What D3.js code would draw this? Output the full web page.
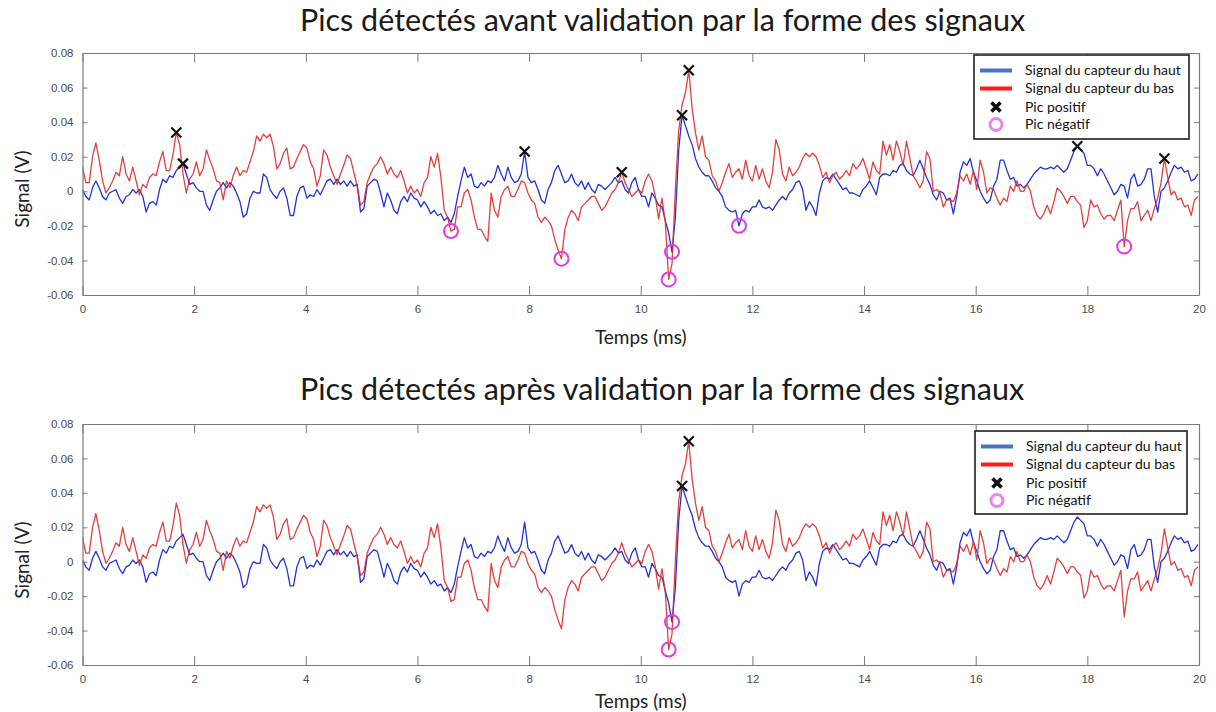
<!DOCTYPE html>
<html>
<head>
<meta charset="utf-8">
<script src="https://cdn.jsdelivr.net/npm/d3@7"></script>
<style>
  body { margin: 0; background: #fff; }
</style>
</head>
<body>
<svg id="fig" width="1216" height="712"></svg>
<script>
// Sampling period of both sensor signals (ms); values are stored in mV.
const periodeMs = 0.06;

// Upper sensor signal (mV)
const hautMv = [
  1,-3,-5,2,6,2,-3,-5,-1,0,
  1,-4,-7,-3,-2,1,-1,1,-3,-12,
  -7,-6,-8,1,7,5,9,8,12,14,
  16,10,4,5,2,0,0,-8,-11,-5,
  0,2,5,2,5,3,-1,-6,-15,-13,
  -4,0,-1,-1,10,8,1,-2,-4,0,
  2,-4,-14,-14,-3,2,3,-4,-2,-3,
  1,-2,2,6,7,4,7,4,6,3,
  6,3,4,-12,-10,
  3,5,7,6,-1,-9,-1,-5,-11,-13,
  -6,-3,-6,-1,-4,-5,-9,-6,-9,-13,
  -11,-14,-13,-17,-15,-18,-13,-3,6,14,
  8,10,3,2,5,3,6,5,8,15,
  10,6,14,8,5,6,10,23,8,5,
  6,1,-5,-7,1,5,12,15,10,5,
  6,10,5,3,6,1,5,1,-1,4,
  3,1,3,5,8,5,6,1,-1,5,
  8,1,-3,-3,-9,
  -1,-4,-8,-9,-17,-24,-35,-15,24,44,
  38,32,27,19,14,11,9,9,6,2,
  0,-3,-9,-11,-12,-11,-20,-13,-11,-12,
  -9,-9,-5,-9,-10,-9,-11,-8,-5,-3,
  -5,-1,1,5,6,1,-11,-6,-9,-14,
  -1,6,8,7,10,7,4,1,2,-1,
  -1,-2,-3,1,3,6,2,-2,8,10,
  10,9,12,11,15,16,12,10,9,13,
  18,13,8,4,
  -2,-5,0,-1,-5,-4,-13,-3,11,17,
  15,19,11,6,0,-4,-7,-5,3,7,
  18,18,12,7,8,3,4,2,4,7,
  10,12,14,13,13,14,13,15,13,11,
  13,18,23,26,24,22,15,15,13,9,
  13,10,6,2,-2,0,4,3,-4,7,
  10,3,4,7,13,13,-3,-12,0,2,
  6,11,15,13,14,11,12,6,7,10
];

// Lower sensor signal (mV)
const basMv = [
  14,5,5,20,28,18,6,-1,2,6,
  11,9,20,10,6,14,6,-2,4,2,
  8,10,9,17,23,12,12,21,34,27,
  10,-1,7,10,17,9,13,24,18,13,
  6,5,-5,6,2,9,14,9,12,11,
  17,23,32,29,33,31,33,26,13,16,
  22,25,13,14,19,23,27,25,17,13,
  3,9,24,21,14,9,4,10,15,21,
  19,11,3,-8,-6,
  5,10,14,16,20,16,10,14,10,8,
  12,6,-1,3,-1,1,-3,5,8,20,
  14,22,8,-11,-15,-23,-22,-9,-9,-1,
  1,-5,-15,-22,-22,-26,-29,-1,-11,-15,
  -3,1,3,-3,-3,1,6,5,-1,-5,
  -7,-15,-18,-15,-17,-20,-28,-34,-39,-22,
  -15,-11,-13,-17,-9,-7,-5,-3,-3,-7,
  -11,-9,-5,-1,1,5,11,5,1,-3,
  -1,1,-1,6,10,
  6,-3,-16,-4,-18,-51,-42,1,35,50,
  57,70,48,34,24,32,20,18,9,6,
  0,5,11,16,8,11,13,7,18,9,
  6,15,7,13,6,2,11,30,24,10,
  6,14,9,11,14,19,22,20,22,20,
  15,8,11,5,9,11,7,9,12,9,
  16,13,15,19,13,7,17,12,10,29,
  21,27,18,29,23,15,29,19,9,6,
  2,6,23,19,
  0,1,-1,-9,-5,-5,-6,-1,9,6,
  10,4,12,1,18,11,-1,2,1,-4,
  -8,-4,-6,3,0,6,0,0,4,0,
  -9,-14,-16,-13,-8,-13,-6,2,0,-3,
  -7,-3,-3,-6,-8,-21,-17,-5,-9,-8,
  -13,-16,-14,-14,-17,-11,-5,-32,-17,-10,
  -10,-6,-17,-14,-11,-17,-10,-4,5,19,
  8,-2,0,-5,-4,-9,-8,-14,-5,-3
];

// Detected peaks: [time (ms), value (mV)]
const picsPositifsAvant = [[1.68, 34], [1.80, 16], [7.92, 23], [9.66, 11], [10.74, 44], [10.86, 70], [17.82, 26], [19.38, 19]];
const picsNegatifsAvant = [[6.60, -23], [8.58, -39], [10.50, -51], [10.56, -35], [11.76, -20], [18.66, -32]];
const picsPositifsApres = [[10.74, 44], [10.86, 70]];
const picsNegatifsApres = [[10.50, -51], [10.56, -35]];

const xTicks = [0, 2, 4, 6, 8, 10, 12, 14, 16, 18, 20];
const yTicks = [-0.06, -0.04, -0.02, 0, 0.02, 0.04, 0.06, 0.08];
const yTickLabels = ["-0.06", "-0.04", "-0.02", "0", "0.02", "0.04", "0.06", "0.08"];

const legendLabels = ["Signal du capteur du haut", "Signal du capteur du bas", "Pic positif", "Pic négatif"];

const titres = [
  "Pics détectés avant validation par la forme des signaux",
  "Pics détectés après validation par la forme des signaux"
];

// ---- styling / layout ----
const COL_HAUT = "#2233d8";
const COL_BAS = "#e02a2a";
const COL_CIRCLE = "#e03ce0";
const AXIS_COL = "#7a7a7a";
const TICK_TEXT = "#4a4a4a";
const UI_FONT = "Lato, 'Open Sans', sans-serif";
const NUM_FONT = "'Liberation Sans', Arial, sans-serif";

const panels = [
  { titre: titres[0], top: 53, bottom: 295, titleY: 31, xLabelY: 344, pos: picsPositifsAvant, neg: picsNegatifsAvant,
    legend: { x: 974, y: 55, w: 215, h: 84 } },
  { titre: titres[1], top: 424, bottom: 665, titleY: 400, xLabelY: 708, pos: picsPositifsApres, neg: picsNegatifsApres,
    legend: { x: 975, y: 431, w: 212, h: 83 } }
];

const svg = d3.select("#fig");
const defs = svg.append("defs");
const x = d3.scaleLinear().domain([0, 20]).range([82.5, 1199]);
const temps = hautMv.map((_, k) => k * periodeMs);

function drawCross(sel, cx, cy, s, w) {
  sel.append("path")
    .attr("d", `M${cx - s},${cy - s}L${cx + s},${cy + s}M${cx - s},${cy + s}L${cx + s},${cy - s}`)
    .attr("stroke", "#111").attr("stroke-width", w).attr("fill", "none");
}

panels.forEach((p, i) => {
  const y = d3.scaleLinear().domain([-0.06, 0.08]).range([p.bottom, p.top]);
  const g = svg.append("g");

  defs.append("clipPath").attr("id", "plotclip" + i)
    .append("rect")
    .attr("x", x(0)).attr("y", p.top)
    .attr("width", x(20) - x(0)).attr("height", p.bottom - p.top);

  // title
  svg.append("text")
    .attr("x", 300).attr("y", p.titleY)
    .attr("font-family", UI_FONT).attr("font-size", 30.5)
    .attr("fill", "#1a1a1a")
    .text(p.titre);

  // signals
  const line = d3.line()
    .x((d, k) => x(temps[k]))
    .y(d => y(d / 1000));
  const plot = g.append("g").attr("clip-path", `url(#plotclip${i})`);
  plot.append("path").datum(hautMv)
    .attr("d", line).attr("fill", "none")
    .attr("stroke", COL_HAUT).attr("stroke-width", 1.3).attr("stroke-linejoin", "round");
  plot.append("path").datum(basMv)
    .attr("d", line).attr("fill", "none")
    .attr("stroke", COL_BAS).attr("stroke-width", 1.3).attr("stroke-linejoin", "round")
    .attr("opacity", 0.9);

  // peak markers
  p.neg.forEach(([t, v]) => {
    g.append("circle").attr("cx", x(t)).attr("cy", y(v / 1000)).attr("r", 7)
      .attr("fill", "none").attr("stroke", COL_CIRCLE).attr("stroke-width", 2);
  });
  p.pos.forEach(([t, v]) => drawCross(g, x(t), y(v / 1000), 5, 2.2));

  // axes (box with inward ticks)
  const styleAxis = a => {
    a.select(".domain").attr("stroke", AXIS_COL).attr("stroke-width", 1.2);
    a.selectAll(".tick line").attr("stroke", AXIS_COL).attr("stroke-width", 1);
    a.selectAll(".tick text").attr("fill", TICK_TEXT)
      .attr("font-family", NUM_FONT).attr("font-size", 11.5);
  };
  g.append("g").attr("transform", `translate(0,${p.bottom})`)
    .call(d3.axisBottom(x).tickValues(xTicks).tickSizeInner(-9).tickSizeOuter(0).tickPadding(10)
      .tickFormat(d => String(d)))
    .call(styleAxis);
  g.append("g").attr("transform", `translate(0,${p.top})`)
    .call(d3.axisTop(x).tickValues(xTicks).tickSizeInner(-9).tickSizeOuter(0).tickFormat(""))
    .call(styleAxis);
  g.append("g").attr("transform", `translate(${x(0)},0)`)
    .call(d3.axisLeft(y).tickValues(yTicks).tickSizeInner(-5).tickSizeOuter(0).tickPadding(9)
      .tickFormat((d, k) => yTickLabels[k]))
    .call(styleAxis);
  g.append("g").attr("transform", `translate(${x(20)},0)`)
    .call(d3.axisRight(y).tickValues(yTicks).tickSizeInner(-5).tickSizeOuter(0).tickFormat(""))
    .call(styleAxis);

  // axis labels
  svg.append("text")
    .attr("x", (x(0) + x(20)) / 2).attr("y", p.xLabelY)
    .attr("text-anchor", "middle")
    .attr("font-family", UI_FONT).attr("font-size", 19).attr("fill", "#222")
    .text("Temps (ms)");
  svg.append("text")
    .attr("transform", `translate(29,${p.top + 136}) rotate(-90)`)
    .attr("text-anchor", "middle")
    .attr("font-family", UI_FONT).attr("font-size", 19).attr("fill", "#222")
    .text("Signal (V)");

  // legend
  const L = p.legend;
  const lg = svg.append("g").attr("transform", `translate(${L.x},${L.y})`);
  lg.append("rect").attr("width", L.w).attr("height", L.h)
    .attr("fill", "#fff").attr("stroke", "#111").attr("stroke-width", 1.5);
  const rows = [15.5, 33.5, 52, 69.5];
  lg.append("line").attr("x1", 6).attr("x2", 38).attr("y1", rows[0]).attr("y2", rows[0])
    .attr("stroke", "#4472c4").attr("stroke-width", 4);
  lg.append("line").attr("x1", 6).attr("x2", 38).attr("y1", rows[1]).attr("y2", rows[1])
    .attr("stroke", "#ff1a1a").attr("stroke-width", 4);
  drawCross(lg, 22, rows[2], 4.5, 3.6);
  lg.append("circle").attr("cx", 22).attr("cy", rows[3]).attr("r", 6)
    .attr("fill", "none").attr("stroke", "#ee82ee").attr("stroke-width", 3);
  legendLabels.forEach((txt, k) => {
    lg.append("text").attr("x", 51).attr("y", rows[k]).attr("dy", "0.35em")
      .attr("font-family", UI_FONT).attr("font-size", 14).attr("fill", "#111")
      .text(txt);
  });
});
</script>
</body>
</html>
